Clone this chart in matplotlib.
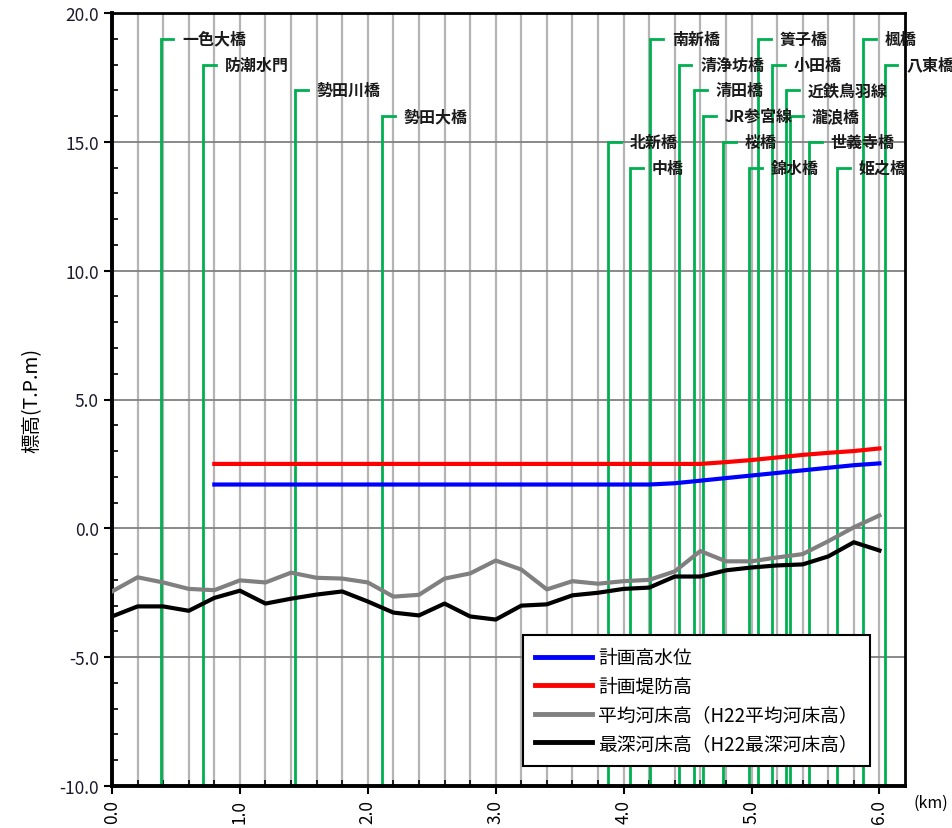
# -*- coding: utf-8 -*-
import numpy as np
import matplotlib.pyplot as plt
import matplotlib as mpl

mpl.rcParams['font.family'] = ['Noto Sans CJK JP', 'DejaVu Sans']
mpl.rcParams['axes.unicode_minus'] = True

# 距離標 (km)
km_bed = np.round(np.arange(0, 31) * 0.2, 1)
# 平均河床高 (H22)
bed_mean = [-2.45, -1.9, -2.1, -2.35, -2.4, -2.02, -2.1, -1.72, -1.92, -1.95,
            -2.1, -2.65, -2.58, -1.95, -1.75, -1.25, -1.6, -2.37, -2.05, -2.15,
            -2.05, -2.0, -1.67, -0.88, -1.28, -1.28, -1.13, -1.0, -0.5, 0.04, 0.5]
# 最深河床高 (H22)
bed_deep = [-3.42, -3.03, -3.03, -3.2, -2.7, -2.42, -2.92, -2.73, -2.57, -2.45,
            -2.84, -3.27, -3.38, -2.92, -3.42, -3.54, -3.0, -2.95, -2.6, -2.5,
            -2.35, -2.3, -1.87, -1.87, -1.63, -1.52, -1.44, -1.4, -1.09, -0.54, -0.86]

# 計画高水位・計画堤防高
km_plan = np.round(np.arange(4, 31) * 0.2, 1)
hwl = [1.7] * 18 + [1.75, 1.85, 1.95, 2.05, 2.15, 2.25, 2.35, 2.45, 2.52]
levee = [2.5] * 20 + [2.57, 2.65, 2.75, 2.85, 2.93, 3.0, 3.1]

# 橋梁
bridge_names = ['一色大橋', '防潮水門', '勢田川橋', '勢田大橋', '北新橋', '中橋',
                '南新橋', '清浄坊橋', '清田橋', 'JR参宮線', '桜橋', '錦水橋',
                '簀子橋', '小田橋', '近鉄鳥羽線', '瀧浪橋', '世義寺橋', '姫之橋',
                '楓橋', '八東橋']
bridge_km = [0.38, 0.71, 1.43, 2.11, 3.88, 4.05, 4.21, 4.43, 4.55, 4.62, 4.78,
             4.98, 5.05, 5.16, 5.27, 5.30, 5.45, 5.67, 5.87, 6.04]
bridge_level = [19, 18, 17, 16, 15, 14, 19, 18, 17, 16, 15, 14,
                19, 18, 17, 16, 15, 14, 19, 18]

green = '#00b050'


def main():
    fig = plt.figure(figsize=(9.52, 8.29), dpi=100)
    ax = fig.add_axes([112 / 952, 42 / 829, 793 / 952, 773 / 829])

    ax.set_xlim(0, 6.2)
    ax.set_ylim(-10, 20)

    # グリッド
    for x in np.arange(0.2, 6.2, 0.2):
        ax.axvline(x, color='#b4b4b4', lw=1.6, zorder=1)
    for y in np.arange(-5, 20, 5):
        ax.axhline(y, color='#808080', lw=1.3, zorder=1)

    # 橋梁位置
    for name, x, lv in zip(bridge_names, bridge_km, bridge_level):
        ax.plot([x, x, x + 0.1], [-10, lv, lv], color=green, lw=2.0,
                zorder=2, clip_on=False, solid_joinstyle='miter')
        ax.text(x + 0.17, lv, name, fontsize=11.5, va='center', ha='left',
                color='#1a1a1a', fontweight='bold', zorder=3, clip_on=False)

    ax.plot(km_plan, hwl, color='#0000ff', lw=3, label='計画高水位', zorder=4)
    ax.plot(km_plan, levee, color='#ff0000', lw=3, label='計画堤防高', zorder=4)
    ax.plot(km_bed, bed_mean, color='#808080', lw=3,
            label='平均河床高（H22平均河床高）', zorder=4)
    ax.plot(km_bed, bed_deep, color='#000000', lw=3,
            label='最深河床高（H22最深河床高）', zorder=4)

    ax.set_yticks(np.arange(-10, 20.1, 5))
    ax.set_yticklabels(['%.1f' % v for v in np.arange(-10, 20.1, 5)],
                       fontsize=12.5, color='#1a1a2e')
    ax.set_yticks(np.arange(-10, 20.1, 1), minor=True)
    ax.set_xticks(np.arange(0, 6.1, 1.0))
    ax.set_xticklabels(['%.1f' % v for v in np.arange(0, 6.1, 1.0)],
                       rotation=90, fontsize=12.5)
    ax.set_xticks(np.arange(0, 6.2, 0.2), minor=True)
    ax.tick_params(axis='both', which='major', direction='out', length=6, width=1.5)
    ax.tick_params(axis='both', which='minor', direction='in', length=4, width=1.2)

    for side in ['left', 'bottom']:
        ax.spines[side].set_linewidth(2.8)
    for side in ['top', 'right']:
        ax.spines[side].set_linewidth(2.0)

    ax.set_ylabel('標高(T.P.m)', fontsize=14, labelpad=12)
    fig.text(0.978, 0.031, '(km)', fontsize=11.5, ha='center', va='center')

    leg = ax.legend(loc='lower right', bbox_to_anchor=(0.956, 0.026),
                    borderaxespad=0, fontsize=13.5, handlelength=3.0,
                    handletextpad=0.35, labelspacing=0.4, fancybox=False,
                    framealpha=1, edgecolor='black', borderpad=0.65)
    leg.get_frame().set_linewidth(1.5)
    leg.set_zorder(10)
    for line in leg.get_lines():
        line.set_linewidth(3.5)

    plt.savefig('out.png', dpi=100)


if __name__ == '__main__':
    main()
